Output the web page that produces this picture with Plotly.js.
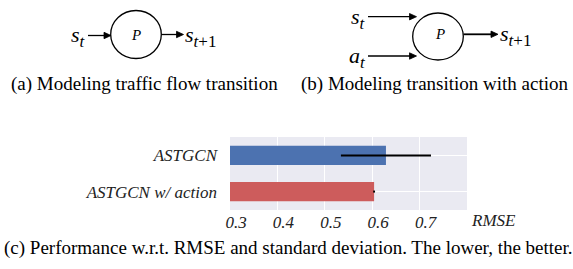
<!DOCTYPE html>
<html>
<head>
<meta charset="utf-8">
<script src="https://cdn.plot.ly/plotly-3.0.1.min.js"></script>
<style>
html,body{margin:0;padding:0;background:#fff;}
#chart{width:573px;height:269px;}
</style>
</head>
<body>
<div id="chart"></div>
<script>
// ---- data ----
const categories = ['ASTGCN', 'ASTGCN w/ action'];
const rmse = [0.629, 0.604];
const rmseStd = [0.095, 0.002];
const barColors = ['#4C72B0', '#CD5C5C'];
const tickValues = [0.3, 0.4, 0.5, 0.6, 0.7];
const tickLabels = ['0.3', '0.4', '0.5', '0.6', '0.7'];
const axisLabel = 'RMSE';
const captionA = '(a) Modeling traffic flow transition';
const captionB = '(b) Modeling transition with action';
const captionC = '(c) Performance w.r.t. RMSE and standard deviation. The lower, the better.';

// ---- layout helpers (pixel -> paper) ----
const W = 573, H = 269;
const M = {l: 230, r: 106, t: 137, b: 59};
const PW = W - M.l - M.r, PH = H - M.t - M.b;
const px = x => (x - M.l) / PW;
const py = y => (H - M.b - y) / PH;

const serif = 'Liberation Serif';
const shapes = [];
const annotations = [];
const it = s => '<i>' + s + '</i>';

function ellipse(cx, cy, rx, ry) {
  shapes.push({type: 'circle', xref: 'paper', yref: 'paper',
    x0: px(cx - rx), x1: px(cx + rx), y0: py(cy + ry), y1: py(cy - ry),
    line: {color: 'black', width: 1.3}, fillcolor: 'rgba(0,0,0,0)'});
}
// horizontal arrow from x0 to tip x1 at height y
function arrow(x0, x1, y, w) {
  const hl = 7, hw = 3.2;
  shapes.push({type: 'line', xref: 'paper', yref: 'paper',
    x0: px(x0), x1: px(x1 - hl + 1), y0: py(y), y1: py(y),
    line: {color: 'black', width: w || 1.3}});
  shapes.push({type: 'path', xref: 'paper', yref: 'paper',
    path: 'M ' + px(x1) + ' ' + py(y) + ' L ' + px(x1 - hl) + ' ' + py(y - hw) +
          ' L ' + px(x1 - hl) + ' ' + py(y + hw) + ' Z',
    line: {color: 'black', width: 0.8}, fillcolor: 'black'});
}
function text(t, x, y, size, xanchor, color) {
  annotations.push({xref: 'paper', yref: 'paper', x: px(x), y: py(y), text: t,
    showarrow: false, xanchor: xanchor || 'center', yanchor: 'middle',
    font: {family: serif, size: size, color: color || 'black'}});
}

const sub = s => '<sub><span style="font-size:17px">' + s + '</span></sub>';
const sT = it('s') + sub(it('t'));
const sT1 = it('s') + sub(it('t') + '+1');
const aT = it('a') + sub(it('t'));

// diagram (a)
ellipse(136, 34.5, 25.3, 24);
arrow(88, 111, 35.5);
arrow(161.5, 183.5, 34.5);
text(sT, 88, 37, 22, 'right');
text(it('P'), 136, 35, 15);
text(sT1, 183, 37, 22, 'left');
text(captionA, 144, 84, 19);

// diagram (b)
ellipse(438, 36.5, 25.3, 23.5);
arrow(368, 416.5, 16.7);
arrow(368, 416.5, 56);
arrow(463.5, 498, 34.3, 1.8);
text(sT, 368, 18, 22, 'right');
text(aT, 368, 57, 22, 'right');
text(it('P'), 440, 34, 15);
text(sT1, 498, 36, 22, 'left');
text(captionB, 435, 84, 19);

// axis label and caption (c)
text(it(axisLabel), 493, 220, 17, 'center', '#222');
text(captionC, 288, 248, 19);

const trace = {
  type: 'bar', orientation: 'h',
  x: rmse, y: categories,
  marker: {color: barColors, line: {width: 0}},
  width: 0.53,
  error_x: {type: 'data', array: rmseStd, visible: true, color: 'black', thickness: 2, width: 0},
  hoverinfo: 'skip'
};

const layout = {
  width: W, height: H,
  margin: M,
  font: {family: serif},
  paper_bgcolor: 'white', plot_bgcolor: '#EAEAF2',
  showlegend: false,
  xaxis: {range: [0.3, 0.8], tickvals: tickValues, ticktext: tickLabels.map(it),
    showgrid: true, gridcolor: 'white', gridwidth: 1.3, zeroline: false, showline: false,
    ticks: '', ticklabelshift: 6, ticklabelstandoff: 0,
    tickfont: {family: serif, size: 17, color: '#222'}},
  yaxis: {type: 'category', categoryorder: 'array', categoryarray: categories,
    tickvals: categories, ticktext: categories.map(it),
    range: [1.51, -0.51], showgrid: true, gridcolor: 'white', gridwidth: 1.3,
    zeroline: false, showline: false, ticks: '', ticklabelstandoff: 12,
    tickfont: {family: serif, size: 17, color: '#222'}},
  shapes: shapes,
  annotations: annotations
};

Plotly.newPlot('chart', [trace], layout, {displayModeBar: false, staticPlot: true});
</script>
</body>
</html>
